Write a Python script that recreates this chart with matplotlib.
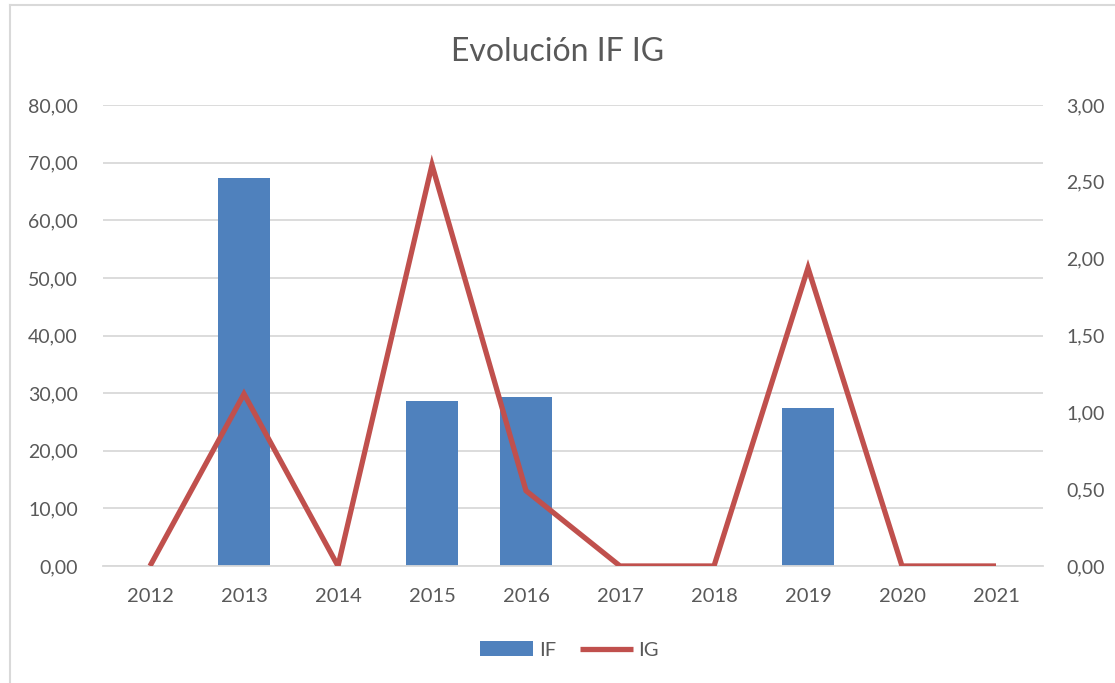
import matplotlib.pyplot as plt
from matplotlib.lines import Line2D
from matplotlib.ticker import FuncFormatter, FixedLocator

years = ['2012', '2013', '2014', '2015', '2016', '2017', '2018', '2019', '2020', '2021']
if_values = [0, 67.3, 0, 28.6, 29.3, 0, 0, 27.4, 0, 0]
ig_values = [0, 1.12, 0, 2.61, 0.49, 0, 0, 1.94, 0, 0]

plt.rcParams['font.family'] = ['Lato', 'DejaVu Sans']
text_color = '#595959'
grid_color = '#d9d9d9'

fig = plt.figure(figsize=(11.15, 6.83), dpi=100)
ax = fig.add_axes([103 / 1115, 1 - 566 / 683, 940 / 1115, (566 - 105) / 683])
ax2 = ax.twinx()

x = list(range(len(years)))
bars = ax.bar(x, if_values, width=0.56, color='#4F81BD', label='IF', zorder=2)
line, = ax2.plot(x, ig_values, color='#C0504D', linewidth=3.8, label='IG',
                 solid_joinstyle='miter', solid_capstyle='butt', zorder=3)

ax.set_xlim(-0.5, len(years) - 0.5)
ax.set_ylim(0, 80)
ax2.set_ylim(0, 3)
ax.yaxis.set_major_locator(FixedLocator([0, 10, 20, 30, 40, 50, 60, 70, 80]))
ax2.yaxis.set_major_locator(FixedLocator([0, 0.5, 1, 1.5, 2, 2.5, 3]))

comma = FuncFormatter(lambda v, p: f'{v:.2f}'.replace('.', ','))
ax.yaxis.set_major_formatter(comma)
ax2.yaxis.set_major_formatter(comma)

ax.set_xticks(x)
ax.set_xticklabels(years)
ax.grid(axis='y', color=grid_color, linewidth=1.3, zorder=0)
ax.set_axisbelow(True)

for a in (ax, ax2):
    for s in a.spines.values():
        s.set_visible(False)
    a.tick_params(length=0, labelsize=14, colors=text_color)
ax.tick_params(axis='y', pad=18)
ax2.tick_params(axis='y', pad=17)
ax.tick_params(axis='x', pad=16, labelsize=14.5)
ax.spines['bottom'].set_visible(True)
ax.spines['bottom'].set_color(grid_color)
ax.spines['bottom'].set_linewidth(1.3)

ax2.set_zorder(ax.get_zorder() + 1)
ax2.patch.set_visible(False)

fig.text(0.5, 1 - 52 / 683, 'Evolución IF IG', ha='center', va='center',
         fontsize=23, color=text_color)

fig.legend([bars, line], ['IF', 'IG'], loc='center', bbox_to_anchor=(0.511, 1 - 650 / 683),
           ncol=2, frameon=False, fontsize=14.5, labelcolor=text_color,
           handlelength=2.6, handletextpad=0.3, columnspacing=1.2)

# chart frame (left and top edges)
fig.add_artist(Line2D([10 / 1115, 10 / 1115], [0, 1 - 5 / 683], color='#d9d9d9', linewidth=1.5))
fig.add_artist(Line2D([10 / 1115, 1], [1 - 5 / 683, 1 - 5 / 683], color='#d9d9d9', linewidth=1.5))

plt.savefig('out.png', dpi=100)
